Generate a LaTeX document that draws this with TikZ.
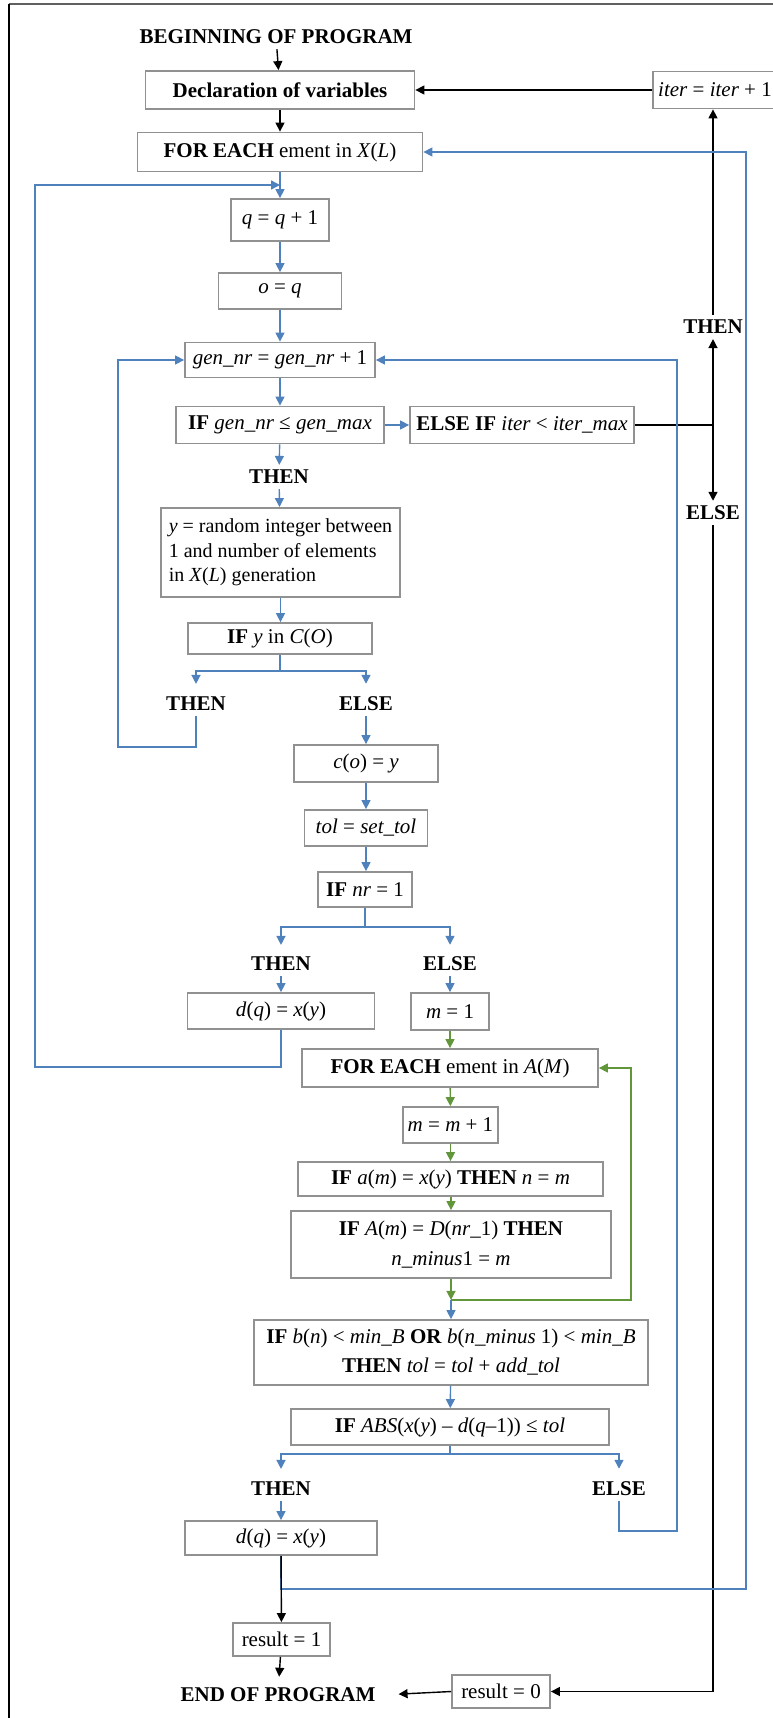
\documentclass[tikz,border=0pt]{standalone}
\usepackage{fontspec}
\setmainfont{Liberation Serif}
\usetikzlibrary{arrows.meta}
\newcommand{\iv}[1]{\textit{#1}}
\definecolor{flowblue}{RGB}{79,129,189}
\definecolor{flowgreen}{RGB}{98,150,58}
\definecolor{boxgray}{RGB}{145,145,145}

\begin{document}
\begin{tikzpicture}[x=1pt, y=-1pt, font=\fontsize{21}{25}\selectfont,
    >={Triangle[length=9pt,width=9pt]},
    box/.style={draw=boxgray, line width=1.8pt, inner sep=3pt, align=center},
    lab/.style={font=\fontsize{21}{25}\selectfont\bfseries, inner sep=5pt},
    blu/.style={flowblue, line width=1.4pt},
    grn/.style={flowgreen, line width=1.4pt},
    blk/.style={black, line width=1.4pt}]
  \useasboundingbox (0,0) rectangle (773,1718);
  % frame of the figure
  \draw[gray!75!black, line width=2pt] (9,4) -- (773,4);
  \draw[black, line width=1.2pt] (9,4) -- (9,1718);

  % start and outer loop
  \node[lab] (begin) at (276,37) {BEGINNING OF PROGRAM};
  \node[box, minimum width=269pt, minimum height=38pt] (decl) at (280,90) {\textbf{Declaration of variables}};
  \node[box, minimum width=124pt, minimum height=37pt] (iter) at (715,90) {\iv{iter} = \iv{iter} + 1};
  \node[box, minimum width=285pt, minimum height=39pt] (fora) at (280,152) {\textbf{FOR EACH} ement in \iv{X}(\iv{L})};
  \node[box, minimum width=98pt, minimum height=42pt] (q) at (280,220) {\iv{q} = \iv{q} + 1};
  \node[box, minimum width=123pt, minimum height=36pt] (o) at (280,291) {\iv{o} = \iv{q}};
  \node[box, minimum width=190pt, minimum height=35pt] (gen) at (280,360) {\iv{gen\_nr} = \iv{gen\_nr} + 1};
  \node[box, minimum width=208pt, minimum height=37pt] (ifgen) at (280,425) {\textbf{IF} \iv{gen\_nr} ≤ \iv{gen\_max}};
  \node[box, minimum width=224pt, minimum height=37pt] (elseif) at (522,425) {\textbf{ELSE IF} \iv{iter} < \iv{iter\_max}};
  \node[lab] (thenR) at (713,327) {THEN};
  \node[lab] (elseR) at (713,513) {ELSE};
  \coordinate (jR) at (713,425);

  % choice of y
  \node[lab] (then1) at (279,477) {THEN};
  \node[box, minimum width=239pt, minimum height=89pt, align=left, inner sep=2pt,
        font=\fontsize{20}{24.5}\selectfont] (rand) at (280.5,552.5)
        {\iv{y} = random integer between\\1 and number of elements\\in \iv{X}(\iv{L}) generation};
  \node[box, minimum width=184pt, minimum height=31pt] (ify) at (280,638.5) {\textbf{IF} \iv{y} in \iv{C}(\iv{O})};
  \node[lab] (then2) at (196,704) {THEN};
  \node[lab] (else2) at (366,704) {ELSE};
  \node[box, minimum width=144pt, minimum height=37pt] (co) at (366,763.5) {\iv{c}(\iv{o}) = \iv{y}};
  \node[box, minimum width=123pt, minimum height=36pt] (tol) at (366,828) {\iv{tol} = \iv{set\_tol}};
  \node[box, minimum width=94pt, minimum height=35pt] (ifnr) at (365,889.5) {\textbf{IF} \iv{nr} = 1};
  \node[lab] (then3) at (281,964) {THEN};
  \node[lab] (else3) at (450,964) {ELSE};
  \node[box, minimum width=187pt, minimum height=36pt] (dq1) at (281,1011) {\iv{d}(\iv{q}) = \iv{x}(\iv{y})};
  \node[box, minimum width=78pt, minimum height=37pt] (m1) at (450,1011.5) {\iv{m} = 1};

  % inner loop over A(M)
  \node[box, minimum width=296pt, minimum height=38pt] (forb) at (450,1068) {\textbf{FOR EACH} ement in \iv{A}(\iv{M})};
  \node[box, minimum width=95pt, minimum height=36pt] (mm) at (450.5,1125) {\iv{m} = \iv{m} + 1};
  \node[box, minimum width=305pt, minimum height=34pt] (ifa) at (450.5,1179) {\textbf{IF} \iv{a}(\iv{m}) = \iv{x}(\iv{y}) \textbf{THEN} \iv{n} = \iv{m}};
  \node[box, minimum width=320pt, minimum height=67pt, font=\fontsize{21}{30}\selectfont] (ifA) at (451,1244.5)
        {\textbf{IF} \iv{A}(\iv{m}) = \iv{D}(\iv{nr}\_1) \textbf{THEN}\\\iv{n\_minus}1 = \iv{m}};
  \node[box, minimum width=394pt, minimum height=65pt, font=\fontsize{21}{29}\selectfont] (ifb) at (451,1352.5)
        {\textbf{IF} \iv{b}(\iv{n}) < \iv{min\_B} \textbf{OR} \iv{b}(\iv{n\_minus} 1) < \iv{min\_B}\\\textbf{THEN} \iv{tol} = \iv{tol} + \iv{add\_tol}};
  \node[box, minimum width=318pt, minimum height=36pt] (ifabs) at (450,1427) {\textbf{IF} \iv{ABS}(\iv{x}(\iv{y}) – \iv{d}(\iv{q}–1)) ≤ \iv{tol}};
  \node[lab] (then4) at (281,1489) {THEN};
  \node[lab] (else4) at (619,1489) {ELSE};
  \node[box, minimum width=192pt, minimum height=34pt] (dq2) at (281,1538) {\iv{d}(\iv{q}) = \iv{x}(\iv{y})};
  \node[box, minimum width=97pt, minimum height=33pt] (res1) at (281.5,1639.5) {result = 1};
  \node[box, minimum width=98pt, minimum height=33pt] (res0) at (501,1691.5) {result = 0};
  \node[lab] (endp) at (278,1695) {END OF PROGRAM};

  % black connectors
  \draw[blk,->] (begin) -- (decl);
  \draw[blk,->] (decl) -- (fora);
  \draw[blk,->] (iter) -- (decl);
  \draw[blk] (elseif.east) -- (jR);
  \draw[blk,->] (jR) -- (thenR.south);
  \draw[blk,->] (jR) -- (elseR.north);
  \draw[blk,->] (thenR.north) -- (thenR.north |- iter.south);
  \draw[blk,->] (elseR.south) |- (res0.east);
  \draw[blk,->,shorten >=18pt] (res0.west) -- (endp.east);

  % blue connectors
  \coordinate (mq) at (281,185);
  \draw[blu,->] (fora) -- (q);
  \draw[blu,->] (q) -- (o);
  \draw[blu,->] (o) -- (gen);
  \draw[blu,->] (gen) -- (ifgen);
  \draw[blu,->] (ifgen) -- (elseif);
  \draw[blu,->] (ifgen) -- (then1);
  \draw[blu,->] (then1) -- (rand);
  \draw[blu,->] (rand) -- (rand |- ify.north);
  \draw[blu] (ify.south) -- ++(0,16) coordinate (yj);
  \draw[blu,->,shorten >=8pt] (yj) -| (then2.north);
  \draw[blu,->,shorten >=8pt] (yj) -| (else2.north);
  \draw[blu,->] (then2.south) |- (118,747) |- (gen.west);
  \draw[blu,->] (else2.south) -- (co.north);
  \draw[blu,->] (co) -- (tol);
  \draw[blu,->] (tol) -- (tol |- ifnr.north);
  \draw[blu] (ifnr.south) -- ++(0,19) coordinate (nj);
  \draw[blu,->,shorten >=7pt] (nj) -| (then3.north);
  \draw[blu,->,shorten >=7pt] (nj) -| (else3.north);
  \draw[blu,->] (then3) -- (dq1);
  \draw[blu,->] (else3) -- (m1);
  \draw[blu,->,shorten >=1pt] (dq1.south) |- (35,1067) |- (mq);

  % green inner loop
  \draw[grn,->] (m1) -- (forb);
  \draw[grn,->] (forb) -- (mm);
  \draw[grn,->] (mm) -- (mm |- ifa.north);
  \draw[grn,->] (ifa.south -| ifA.north) -- (ifA);
  \draw[grn,->] (ifA.south) -- ++(0,21) coordinate (gj);
  \draw[grn,->] (gj) -| ([xshift=32pt]forb.east) -- (forb.east);

  \draw[blu,->] (gj) -- (ifb.north);
  \draw[blu,->] (ifb) -- (ifabs);
  \draw[blu] (ifabs.south) -- ++(0,8) coordinate (aj);
  \draw[blu,->,shorten >=8pt] (aj) -| (then4.north);
  \draw[blu,->,shorten >=8pt] (aj) -| (else4.north);
  \draw[blu,->] (then4) -- (dq2);
  \draw[blu,->] (else4.south) |- (677,1531) |- (gen.east);
  \draw[blu,->] (dq2.south) |- (746,1589) |- (fora.east);

  % end
  \draw[blk,->] (dq2) -- (res1);
  \draw[blk,->,shorten >=6pt] (res1) -- (endp);
\end{tikzpicture}
\end{document}
